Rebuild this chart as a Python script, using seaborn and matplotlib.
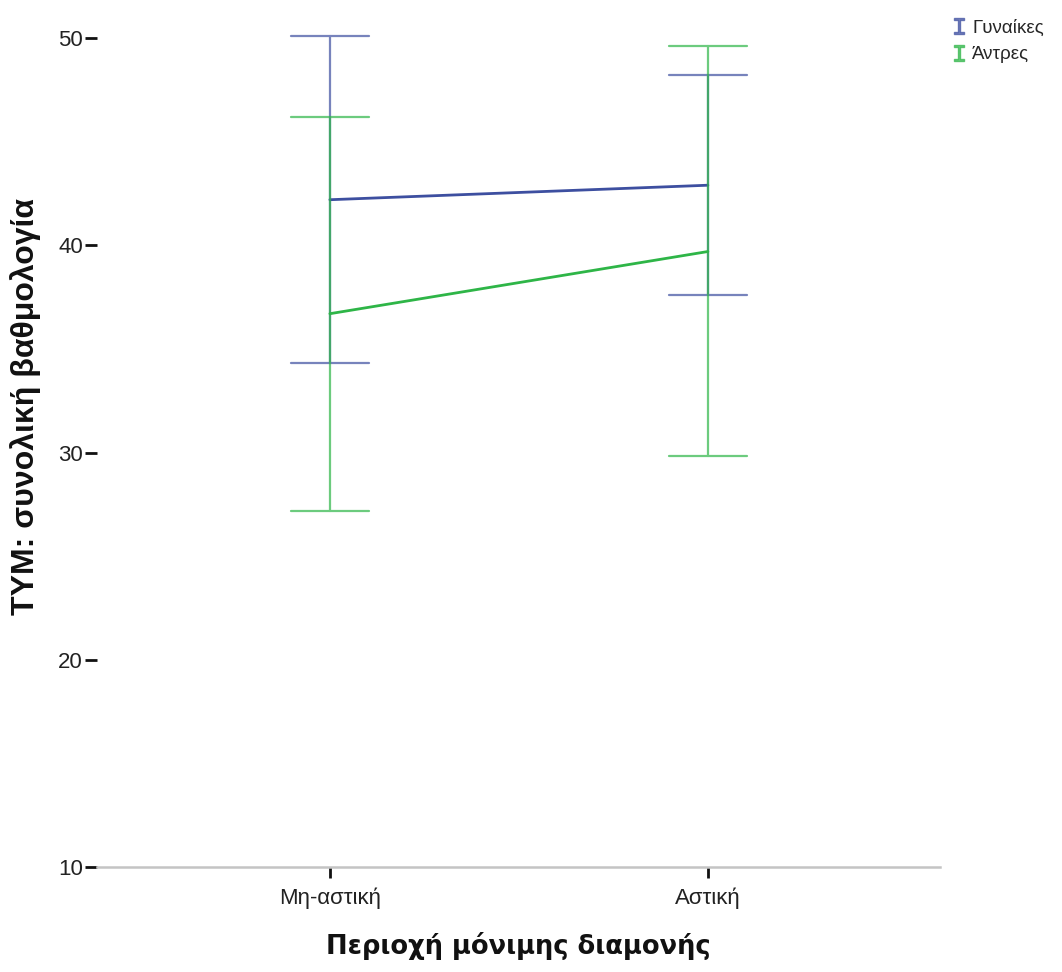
import matplotlib
matplotlib.use("Agg")
import matplotlib.pyplot as plt
import seaborn as sns
import pandas as pd
from matplotlib.lines import Line2D

# ---- data ----
areas = ["Μη-αστική", "Αστική"]
genders = ["Γυναίκες", "Άντρες"]
women_mean = [42.2, 42.9]
women_low = [34.3, 37.6]
women_high = [50.1, 48.2]
men_mean = [36.7, 39.7]
men_low = [27.2, 29.85]
men_high = [46.2, 49.6]
y_ticks = [10, 20, 30, 40, 50]

# long table: low / mean / high per cell -> median = mean, 100% interval = (low, high)
rows = []
for g, lo, mu, hi in [(genders[0], women_low, women_mean, women_high),
                      (genders[1], men_low, men_mean, men_high)]:
    for i, a in enumerate(areas):
        for v in (lo[i], mu[i], hi[i]):
            rows.append({"area": a, "gender": g, "score": v})
df = pd.DataFrame(rows)

sns.set_theme(style="white")
plt.rcParams['font.family'] = ['Liberation Sans', 'DejaVu Sans']

line_colors = {"Γυναίκες": "#3d4fa0", "Άντρες": "#2eb547"}

fig = plt.figure(figsize=(10.62, 9.72), dpi=100)
ax = fig.add_axes([97 / 1062, 105 / 972, (940 - 97) / 1062, (972 - 7 - 105) / 972])

sns.pointplot(data=df, x="area", y="score", hue="gender", order=areas,
              hue_order=genders, palette=line_colors,
              estimator="median", errorbar=("pi", 100), capsize=0.206,
              dodge=False, markers="", linewidth=2,
              err_kws={"linewidth": 1.6, "alpha": 0.7},
              legend=False, ax=ax)

ax.set_xlim(-0.616, 1.614)
ax.set_ylim(10, 51.5)
ax.set_yticks(y_ticks)
ax.set_yticklabels([str(t) for t in y_ticks], fontsize=16, color="#222222")
ax.tick_params(axis="x", labelsize=16, labelcolor="#222222")

for s in ["top", "right", "left"]:
    ax.spines[s].set_visible(False)
ax.spines["bottom"].set_color("#c4c4c4")
ax.spines["bottom"].set_linewidth(1.8)
ax.tick_params(axis="y", direction="out", length=9, width=2, color="#111111",
               left=True, pad=1)
ax.tick_params(axis="x", direction="out", length=8, width=2, color="#111111",
               bottom=True, pad=7)
ax.grid(False)

ax.set_xlabel("Περιοχή μόνιμης διαμονής", fontsize=18.5, fontweight="bold",
              family="DejaVu Sans", labelpad=16, color="#111111")
ax.set_ylabel("ΤΥΜ: συνολική βαθμολογία", fontsize=23, fontweight="bold",
              color="#111111")
ax.yaxis.set_label_coords(-0.067, 0.535)

handles = [Line2D([], [], linestyle="", marker=r"$\mathtt{I}$", markersize=12,
                  color=c, alpha=0.7) for c in (line_colors[g] for g in genders)]
fig.legend(handles, genders, loc="upper left", bbox_to_anchor=(946 / 1062, 1 - 12 / 972),
           frameon=False, fontsize=13.5, handlelength=0.6, handletextpad=0.4,
           labelspacing=0.5, borderaxespad=0)

fig.savefig("out.png", dpi=100, facecolor="white")
